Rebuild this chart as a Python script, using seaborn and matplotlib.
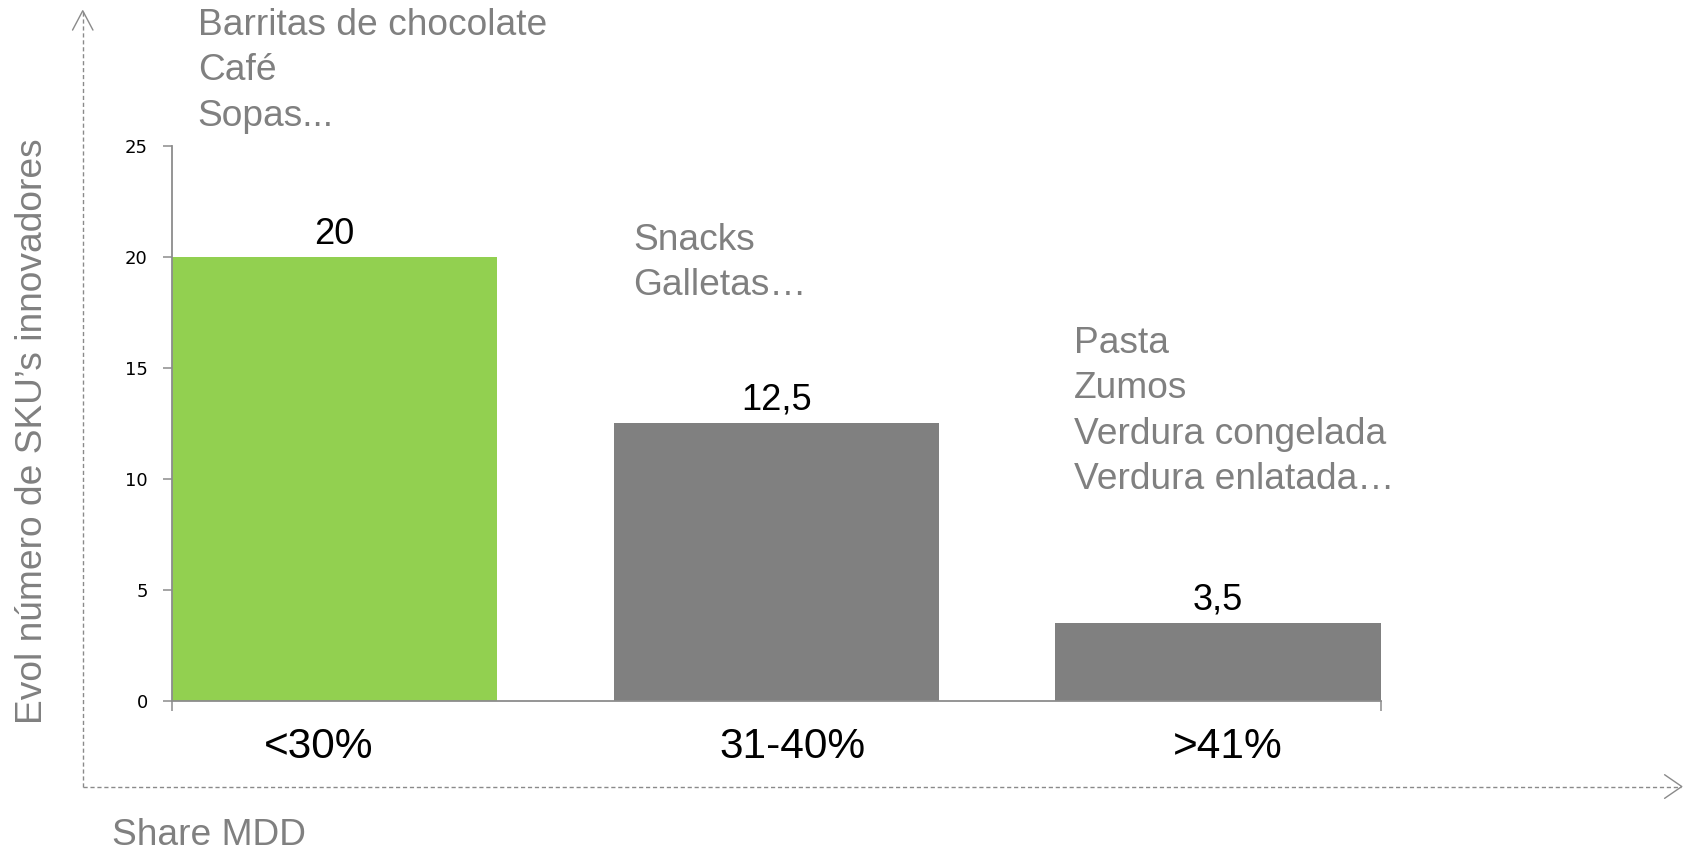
import matplotlib
matplotlib.use("Agg")
import matplotlib.pyplot as plt
import matplotlib.transforms as mtransforms
from matplotlib.lines import Line2D
import seaborn as sns
import pandas as pd

# --- data -------------------------------------------------------------
categories = ["<30%", "31-40%", ">41%"]
values = [20, 12.5, 3.5]
value_labels = ["20", "12,5", "3,5"]
bar_colors = ["#92D050", "#808080", "#808080"]
y_ticks = [0, 5, 10, 15, 20, 25]
group_items = [
    ["Barritas de chocolate", "Café", "Sopas..."],
    ["Snacks", "Galletas…"],
    ["Pasta", "Zumos", "Verdura congelada", "Verdura enlatada…"],
]
y_title = "Evol número de SKU’s innovadores"
x_title = "Share MDD"

# --- style ------------------------------------------------------------
sns.set_style("white")
plt.rcParams["font.family"] = ["Liberation Sans", "DejaVu Sans"]

GREY_TXT = "#808080"
AXIS_COL = "#8c8c8c"

W, H = 1685, 851
SX, SY = 1568, 792  # layout grid used for placing free text


def fx(x):
    return x / SX


def fy(y):
    return 1 - y / SY


fig = plt.figure(figsize=(W / 100, H / 100), dpi=100)
ax = fig.add_axes([fx(160), fy(652), fx(1285) - fx(160), fy(136) - fy(652)])

df = pd.DataFrame({"cat": categories, "val": values})
bar_w = 0.737
sns.barplot(
    data=df, x="cat", y="val", hue="cat", palette=bar_colors,
    width=bar_w, saturation=1, legend=False, ax=ax, linewidth=0,
)

half = bar_w / 2
ax.set_xlim(-half, len(categories) - 1 + half)
ax.set_ylim(0, 25)
ax.set_xlabel("")
ax.set_ylabel("")

for side in ("top", "right"):
    ax.spines[side].set_visible(False)
for side in ("left", "bottom"):
    ax.spines[side].set_color(AXIS_COL)
    ax.spines[side].set_linewidth(1.3)

# y axis ticks
ax.set_yticks(y_ticks)
ax.set_yticklabels([str(t) for t in y_ticks], fontfamily="DejaVu Sans",
                   fontsize=13, color="black")
ax.tick_params(axis="y", left=True, length=6.5, width=1.1, color=AXIS_COL,
               pad=11, direction="out")

# x axis: labels under the bars, tick marks only at the axis ends
ax.set_xticks(range(len(categories)))
ax.set_xticklabels(categories, fontsize=30.5, color="black")
ax.tick_params(axis="x", which="major", length=0, pad=19)
ax.set_xticks([-half, len(categories) - 1 + half], minor=True)
ax.tick_params(axis="x", which="minor", bottom=True, length=7.5, width=1.1,
               color=AXIS_COL, direction="out")

# small horizontal nudges of the category labels (in pixels)
label_shift_px = [-16, 16, 10]
for lbl, dx in zip(ax.get_xticklabels(), label_shift_px):
    lbl.set_transform(lbl.get_transform()
                      + mtransforms.ScaledTranslation(dx / 100, 0, fig.dpi_scale_trans))

# value labels above the bars
for i, (v, lab) in enumerate(zip(values, value_labels)):
    ax.annotate(lab, (i, v), xytext=(0, 16.5), textcoords="offset points",
                ha="center", va="center", fontsize=26, color="black")

# category examples next to each bar
group_pos = [(184, 32.5), (589, 232.5), (999, 328.5)]
line_step = 42.2
for items, (x0, y0) in zip(group_items, group_pos):
    for k, item in enumerate(items):
        fig.text(fx(x0), fy(y0 + k * line_step), item, ha="left",
                 va="baseline", fontsize=26.7, color=GREY_TXT)

# axis titles
fig.text(fx(30), fy(401), y_title, rotation=90, ha="center", va="center",
         fontsize=26.7, color=GREY_TXT)
fig.text(fx(104), fy(786), x_title, ha="left", va="baseline",
         fontsize=26.7, color=GREY_TXT)

# dashed guide arrows framing the chart
ARROW_COL = "#8a8a8a"
ox, oy = 77, 732
fig.add_artist(Line2D([fx(ox), fx(ox)], [fy(oy), fy(11)], transform=fig.transFigure,
                      color=ARROW_COL, lw=1.0, linestyle=(0, (3, 2))))
fig.add_artist(Line2D([fx(ox), fx(1564)], [fy(oy), fy(oy)], transform=fig.transFigure,
                      color=ARROW_COL, lw=1.0, linestyle=(0, (3, 2))))
fig.add_artist(Line2D([fx(ox - 9.5), fx(ox), fx(ox + 9.5)], [fy(28), fy(10), fy(28)],
                      transform=fig.transFigure, color=ARROW_COL, lw=1.0))
fig.add_artist(Line2D([fx(1549), fx(1565), fx(1549)], [fy(oy - 11), fy(oy), fy(oy + 11)],
                      transform=fig.transFigure, color=ARROW_COL, lw=1.0))

fig.savefig("out.png", dpi=100, facecolor="white")
